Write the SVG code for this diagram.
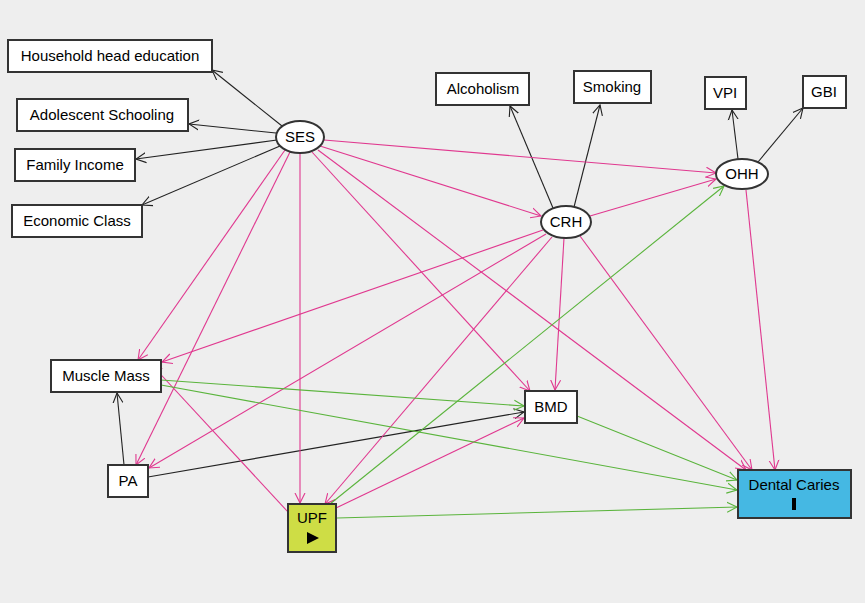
<svg xmlns="http://www.w3.org/2000/svg" width="865" height="603" viewBox="0 0 865 603">
<style>
text{font-family:"Liberation Sans",Arial,sans-serif;font-size:15px;fill:#000;text-anchor:middle}
.n{fill:#fff;stroke:#333;stroke-width:2}
.k{stroke:#222;fill:none;stroke-width:1.1}
.p{stroke:#e0388f;fill:none;stroke-width:1.1}
.g{stroke:#5ab43c;fill:none;stroke-width:1.1}
</style>
<defs>
<marker id="mk" markerWidth="12" markerHeight="12" refX="10" refY="6" orient="auto" markerUnits="userSpaceOnUse"><path d="M0,1 L10,6 L0,11" fill="none" stroke="#222" stroke-width="1.1"/></marker>
<marker id="mp" markerWidth="12" markerHeight="12" refX="10" refY="6" orient="auto" markerUnits="userSpaceOnUse"><path d="M0,1 L10,6 L0,11" fill="none" stroke="#e0388f" stroke-width="1.1"/></marker>
<marker id="mg" markerWidth="12" markerHeight="12" refX="10" refY="6" orient="auto" markerUnits="userSpaceOnUse"><path d="M0,1 L10,6 L0,11" fill="none" stroke="#5ab43c" stroke-width="1.1"/></marker>
</defs>
<rect width="865" height="603" fill="#eeeeee"/>
<g id="edges">
<g marker-end="url(#mk)" class="k">
<line x1="282" y1="126" x2="212" y2="70"/>
<line x1="276" y1="133" x2="189" y2="124"/>
<line x1="277" y1="140" x2="136" y2="159"/>
<line x1="280" y1="146" x2="142" y2="205"/>
<line x1="553" y1="208" x2="510" y2="106"/>
<line x1="574" y1="207" x2="600" y2="105"/>
<line x1="738" y1="159" x2="732" y2="110"/>
<line x1="758" y1="162" x2="803" y2="108"/>
<line x1="124" y1="465" x2="117" y2="393"/>
<line x1="148" y1="477" x2="524" y2="412"/>
</g>
<g marker-end="url(#mp)" class="p">
<line x1="324" y1="140" x2="716" y2="173"/>
<line x1="320" y1="146" x2="541" y2="216"/>
<line x1="285" y1="150" x2="138" y2="360"/>
<line x1="290" y1="152" x2="136" y2="465"/>
<line x1="300" y1="153" x2="300" y2="503"/>
<line x1="312" y1="152" x2="530" y2="391"/>
<line x1="318" y1="150" x2="746" y2="470"/>
<line x1="590" y1="216" x2="716" y2="179"/>
<line x1="543" y1="230" x2="162" y2="362"/>
<line x1="546" y1="234" x2="149" y2="468"/>
<line x1="552" y1="237" x2="325" y2="504"/>
<line x1="564" y1="238" x2="555" y2="390"/>
<line x1="580" y1="236" x2="752" y2="470"/>
<line x1="746" y1="190" x2="775" y2="470"/>
<line x1="288" y1="512" x2="152" y2="365"/>
<line x1="336" y1="508" x2="524" y2="418"/>
</g>
<g marker-end="url(#mg)" class="g">
<line x1="330" y1="504" x2="724" y2="186"/>
<line x1="337" y1="518" x2="737" y2="507"/>
<line x1="161" y1="380" x2="524" y2="406"/>
<line x1="161" y1="385" x2="737" y2="490"/>
<line x1="577" y1="416" x2="737" y2="480"/>
</g>
</g>
<g id="hhe"><rect class="n" x="8" y="40" width="204" height="32"/><text x="110" y="61">Household head education</text></g>
<g id="as"><rect class="n" x="17" y="99" width="171" height="32"/><text x="102" y="120">Adolescent Schooling</text></g>
<g id="fi"><rect class="n" x="15" y="149" width="120" height="32"/><text x="75" y="170">Family Income</text></g>
<g id="ec"><rect class="n" x="12" y="205" width="130" height="32"/><text x="77" y="226">Economic Class</text></g>
<g id="ses"><ellipse class="n" cx="300" cy="137" rx="24" ry="16"/><text x="300" y="142">SES</text></g>
<g id="alc"><rect class="n" x="436" y="73" width="93" height="32"/><text x="483" y="94">Alcoholism</text></g>
<g id="smk"><rect class="n" x="574" y="71" width="77" height="32"/><text x="612" y="92">Smoking</text></g>
<g id="vpi"><rect class="n" x="705" y="77" width="41" height="32"/><text x="725" y="98">VPI</text></g>
<g id="gbi"><rect class="n" x="803" y="76" width="43" height="32"/><text x="824" y="97">GBI</text></g>
<g id="ohh"><ellipse class="n" cx="742" cy="174" rx="26" ry="15"/><text x="742" y="179">OHH</text></g>
<g id="crh"><ellipse class="n" cx="566" cy="222" rx="25" ry="16"/><text x="566" y="227">CRH</text></g>
<g id="mm"><rect class="n" x="51" y="360" width="110" height="32"/><text x="106" y="381">Muscle Mass</text></g>
<g id="bmd"><rect class="n" x="525" y="391" width="52" height="32"/><text x="551" y="412">BMD</text></g>
<g id="pa"><rect class="n" x="108" y="465" width="40" height="32"/><text x="128" y="486">PA</text></g>
<g id="upf"><rect class="n" x="288" y="504" width="48" height="48" style="fill:#cedd45"/><text x="312" y="523">UPF</text><path d="M307,532 L319,538 L307,544 Z" fill="#000"/></g>
<g id="dc"><rect class="n" x="738" y="470" width="113" height="48" style="fill:#45b8e3"/><text x="794" y="490">Dental Caries</text><rect x="792" y="498" width="4" height="12" fill="#000"/></g>
</svg>
